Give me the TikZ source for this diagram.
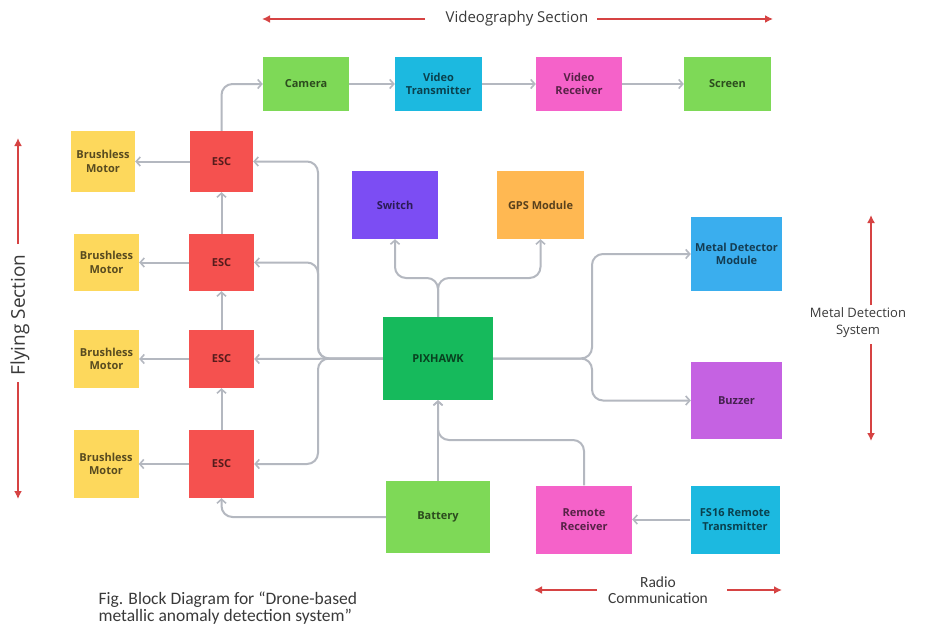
\documentclass[tikz,border=0pt]{standalone}
\usepackage{fontspec}
\setmainfont{Open Sans}
\newfontfamily\capfont{Carlito}
\usetikzlibrary{arrows.meta}
\definecolor{cGreen}{HTML}{7ED957}
\definecolor{cCyan}{HTML}{1CB9E0}
\definecolor{cPink}{HTML}{F562C9}
\definecolor{cRed}{HTML}{F5514F}
\definecolor{cYellow}{HTML}{FDD85C}
\definecolor{cPurple}{HTML}{7C4DF3}
\definecolor{cOrange}{HTML}{FFB852}
\definecolor{cPix}{HTML}{16BA5C}
\definecolor{cBlue}{HTML}{3AAEEE}
\definecolor{cViolet}{HTML}{C562E2}
\definecolor{cConn}{HTML}{B4B8C0}
\definecolor{cArr}{HTML}{D64343}
\definecolor{cLabel}{HTML}{3A3A3A}
\tikzset{
  blk/.style={draw=none, fill=#1, text=#1!35!black, align=center, inner sep=1pt,
    font=\fontsize{11}{13.5}\selectfont\bfseries},
  conn/.style={draw=cConn, line width=2pt, rounded corners=11pt,
    -{Straight Barb[length=4pt,width=9pt,line width=1.6pt]}},
  redarr/.style={draw=cArr, line width=2.2pt, -{Latex[length=8pt,width=8pt]}},
  lbl/.style={text=cLabel, align=center},
}
\begin{document}
\begin{tikzpicture}[x=1pt,y=-1pt]
\useasboundingbox (0,0) rectangle (925,626);
\fill[white] (0,0) rectangle (925,626);
% videography row
\node[blk=cGreen, minimum width=86pt, minimum height=54pt] (cam) at (306,84) {Camera};
\node[blk=cCyan, minimum width=87pt, minimum height=54pt] (vt) at (438.5,84) {Video\\Transmitter};
\node[blk=cPink, minimum width=86pt, minimum height=54pt] (vr) at (579,84) {Video\\Receiver};
\node[blk=cGreen, minimum width=87pt, minimum height=54pt] (scr) at (727.5,84) {Screen};
% ESCs and motors
\node[blk=cRed, minimum width=63pt, minimum height=61pt] (esc1) at (221.5,161.5) {ESC};
\node[blk=cYellow, minimum width=64pt, minimum height=61pt] (m1) at (103,161.5) {Brushless\\Motor};
\node[blk=cRed, minimum width=65pt, minimum height=57pt] (esc2) at (221.5,262.5) {ESC};
\node[blk=cYellow, minimum width=65pt, minimum height=57pt] (m2) at (106.5,262.5) {Brushless\\Motor};
\node[blk=cRed, minimum width=65pt, minimum height=58pt] (esc3) at (221.5,359) {ESC};
\node[blk=cYellow, minimum width=65pt, minimum height=58pt] (m3) at (106.5,359) {Brushless\\Motor};
\node[blk=cRed, minimum width=65pt, minimum height=68pt] (esc4) at (221.5,464) {ESC};
\node[blk=cYellow, minimum width=65pt, minimum height=68pt] (m4) at (106,464) {Brushless\\Motor};
% centre
\node[blk=cPurple, minimum width=86pt, minimum height=68pt] (sw) at (395,205) {Switch};
\node[blk=cOrange, minimum width=87pt, minimum height=68pt] (gps) at (540.5,205) {GPS Module};
\node[blk=cPix, minimum width=110pt, minimum height=83pt] (pix) at (438,358.5) {PIXHAWK};
\node[blk=cBlue, minimum width=91pt, minimum height=74pt] (mdm) at (736.5,254) {Metal Detector\\Module};
\node[blk=cViolet, minimum width=91pt, minimum height=77pt] (buz) at (736.5,400.5) {Buzzer};
\node[blk=cGreen, minimum width=104pt, minimum height=72pt] (bat) at (438,517) {Battery};
\node[blk=cPink, minimum width=96pt, minimum height=68pt] (rr) at (584,519.5) {Remote\\Receiver};
\node[blk=cCyan, minimum width=89pt, minimum height=68pt] (fs) at (735,519.5) {FS16 Remote\\Transmitter};
% bus coordinates
\coordinate (lbus) at (318,358.5);
\coordinate (tbus) at (438,278);
\coordinate (rbus) at (592,358.5);
\coordinate (bjoin) at (438,440);
% connectors
\draw[conn] (esc1.north) |- (cam.west);
\draw[conn] (cam.east) -- (vt.west);
\draw[conn] (vt.east) -- (vr.west);
\draw[conn] (vr.east) -- (scr.west);
\draw[conn] (esc1.west) -- (m1.east);
\draw[conn] (esc2.west) -- (m2.east);
\draw[conn] (esc3.west) -- (m3.east);
\draw[conn] (esc4.west) -- (m4.east);
\draw[conn] (esc2.north) -- (esc1.south);
\draw[conn] (esc3.north) -- (esc2.south);
\draw[conn] (esc4.north) -- (esc3.south);
\draw[conn] (pix.west) -- (esc3.east);
\draw[conn] (pix.west) -- (lbus) |- (esc1.east);
\draw[conn] (pix.west) -- (lbus) |- (esc2.east);
\draw[conn] (pix.west) -- (lbus) |- (esc4.east);
\draw[conn] (pix.north) -- (tbus) -| (sw.south);
\draw[conn] (pix.north) -- (tbus) -| (gps.south);
\draw[conn] (pix.east) -- (rbus) |- (mdm.west);
\draw[conn] (pix.east) -- (rbus) |- (buz.west);
\draw[conn] (bat.north) -- (pix.south);
\draw[conn] (rr.north) |- (bjoin) -- (pix.south);
\draw[conn] (bat.west) -| (esc4.south);
\draw[conn] (fs.west) -- (rr.east);
% section labels
\node[lbl, font=\fontsize{15}{18}\selectfont] (vid) at (517,19) {Videography Section};
\coordinate (vidL0) at (425,19); \coordinate (vidL1) at (262,19);
\coordinate (vidR0) at (597,19); \coordinate (vidR1) at (773,19);
\draw[redarr] (vidL0) -- (vidL1);
\draw[redarr] (vidR0) -- (vidR1);
\node[lbl, rotate=90, font=\fontsize{19}{22}\selectfont] (fly) at (20,315) {Flying Section};
\coordinate (flyT0) at (18,244); \coordinate (flyT1) at (18,138);
\coordinate (flyB0) at (18,382); \coordinate (flyB1) at (18,499);
\draw[redarr] (flyT0) -- (flyT1);
\draw[redarr] (flyB0) -- (flyB1);
\node[lbl, font=\fontsize{13}{17}\selectfont] (mds) at (858,323) {Metal Detection\\System};
\coordinate (mdT0) at (871,305); \coordinate (mdT1) at (871,215);
\coordinate (mdB0) at (871,344); \coordinate (mdB1) at (871,441);
\draw[redarr] (mdT0) -- (mdT1);
\draw[redarr] (mdB0) -- (mdB1);
\node[lbl, font=\capfont\fontsize{15.5}{16}\selectfont] (radio) at (658,590) {Radio\\Communication};
\coordinate (rdL0) at (597,590); \coordinate (rdL1) at (534,590);
\coordinate (rdR0) at (727,590); \coordinate (rdR1) at (782,590);
\draw[redarr] (rdL0) -- (rdL1);
\draw[redarr] (rdR0) -- (rdR1);
\node[lbl, anchor=west, align=left, font=\capfont\fontsize{17.5}{17}\selectfont] (cap) at (95,608)
  {Fig. Block Diagram for “Drone-based\\metallic anomaly detection system”};
\end{tikzpicture}
\end{document}
